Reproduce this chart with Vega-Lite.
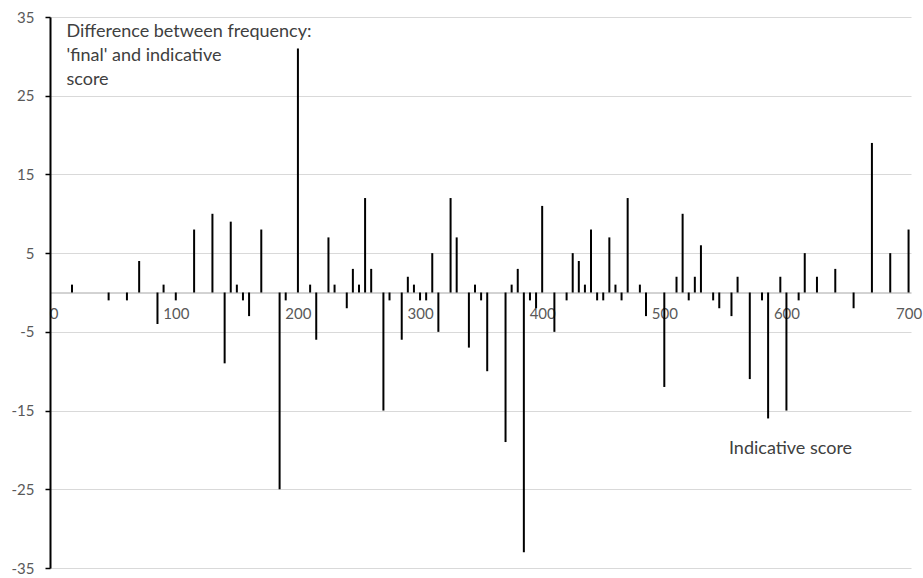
{
  "$schema": "https://vega.github.io/schema/vega-lite/v6.json",
  "width": 861,
  "height": 551,
  "autosize": {"type": "none"},
  "padding": {"left": 50, "top": 17, "right": 12, "bottom": 10},
  "background": "white",
  "config": {"view": {"stroke": null}, "font": "Lato"},
  "data": {
    "values": [
      {"score": 15, "diff": 1}, {"score": 45, "diff": -1}, {"score": 60, "diff": -1}, {"score": 70, "diff": 4},
      {"score": 85, "diff": -4}, {"score": 90, "diff": 1}, {"score": 100, "diff": -1}, {"score": 115, "diff": 8},
      {"score": 130, "diff": 10}, {"score": 140, "diff": -9}, {"score": 145, "diff": 9}, {"score": 150, "diff": 1},
      {"score": 155, "diff": -1}, {"score": 160, "diff": -3}, {"score": 170, "diff": 8}, {"score": 185, "diff": -25},
      {"score": 190, "diff": -1}, {"score": 200, "diff": 31}, {"score": 210, "diff": 1}, {"score": 215, "diff": -6},
      {"score": 225, "diff": 7}, {"score": 230, "diff": 1}, {"score": 240, "diff": -2}, {"score": 245, "diff": 3},
      {"score": 250, "diff": 1}, {"score": 255, "diff": 12}, {"score": 260, "diff": 3}, {"score": 270, "diff": -15},
      {"score": 275, "diff": -1}, {"score": 285, "diff": -6}, {"score": 290, "diff": 2}, {"score": 295, "diff": 1},
      {"score": 300, "diff": -1}, {"score": 305, "diff": -1}, {"score": 310, "diff": 5}, {"score": 315, "diff": -5},
      {"score": 325, "diff": 12}, {"score": 330, "diff": 7}, {"score": 340, "diff": -7}, {"score": 345, "diff": 1},
      {"score": 350, "diff": -1}, {"score": 355, "diff": -10}, {"score": 370, "diff": -19}, {"score": 375, "diff": 1},
      {"score": 380, "diff": 3}, {"score": 385, "diff": -33}, {"score": 390, "diff": -1}, {"score": 395, "diff": -2},
      {"score": 400, "diff": 11}, {"score": 410, "diff": -5}, {"score": 420, "diff": -1}, {"score": 425, "diff": 5},
      {"score": 430, "diff": 4}, {"score": 435, "diff": 1}, {"score": 440, "diff": 8}, {"score": 445, "diff": -1},
      {"score": 450, "diff": -1}, {"score": 455, "diff": 7}, {"score": 460, "diff": 1}, {"score": 465, "diff": -1},
      {"score": 470, "diff": 12}, {"score": 480, "diff": 1}, {"score": 485, "diff": -3}, {"score": 500, "diff": -12},
      {"score": 510, "diff": 2}, {"score": 515, "diff": 10}, {"score": 520, "diff": -1}, {"score": 525, "diff": 2},
      {"score": 530, "diff": 6}, {"score": 540, "diff": -1}, {"score": 545, "diff": -2}, {"score": 555, "diff": -3},
      {"score": 560, "diff": 2}, {"score": 570, "diff": -11}, {"score": 580, "diff": -1}, {"score": 585, "diff": -16},
      {"score": 595, "diff": 2}, {"score": 600, "diff": -15}, {"score": 610, "diff": -1}, {"score": 615, "diff": 5},
      {"score": 625, "diff": 2}, {"score": 640, "diff": 3}, {"score": 655, "diff": -2}, {"score": 670, "diff": 19},
      {"score": 685, "diff": 5}, {"score": 700, "diff": 8}
    ]
  },
  "mark": {"type": "rule", "color": "black", "strokeWidth": 2},
  "encoding": {
    "x": {
      "field": "score",
      "type": "quantitative",
      "scale": {"domain": [-3, 702], "nice": false, "zero": false},
      "axis": {
        "values": [0, 100, 200, 300, 400, 500, 600, 700],
        "labelExpr": "toString(datum.value)",
        "offset": -275.5,
        "ticks": false,
        "grid": false,
        "labelPadding": 14,
        "labelFont": "Lato",
        "labelFontSize": 15,
        "labelColor": "#595959",
        "labelFlush": false,
        "labelOverlap": false,
        "domainColor": "#a6a6a6",
        "domainWidth": 1,
        "title": "Indicative score",
        "titleFont": "Lato",
        "titleFontSize": 18,
        "titleFontWeight": "normal",
        "titleColor": "#404040",
        "titleX": 740,
        "titleY": 156,
        "titleAlign": "center",
        "titleBaseline": "middle"
      }
    },
    "y": {
      "field": "diff",
      "type": "quantitative",
      "scale": {"domain": [-35, 35], "nice": false},
      "axis": {
        "values": [-35, -25, -15, -5, 5, 15, 25, 35],
        "labelExpr": "toString(datum.value)",
        "grid": true,
        "gridColor": "#d9d9d9",
        "gridWidth": 1,
        "domainColor": "black",
        "domainWidth": 2,
        "tickColor": "black",
        "tickWidth": 1.5,
        "tickSize": 5,
        "labelPadding": 11,
        "labelFont": "Lato",
        "labelFontSize": 15,
        "labelColor": "#595959",
        "labelFlush": false,
        "labelOverlap": false,
        "title": ["Difference between frequency:", "'final' and indicative", "score"],
        "titleFont": "Lato",
        "titleFontSize": 18,
        "titleFontWeight": "normal",
        "titleColor": "#404040",
        "titleAngle": 0,
        "titleAlign": "left",
        "titleBaseline": "top",
        "titleLineHeight": 24,
        "titleX": 16,
        "titleY": 5
      }
    },
    "y2": {"datum": 0}
  }
}
